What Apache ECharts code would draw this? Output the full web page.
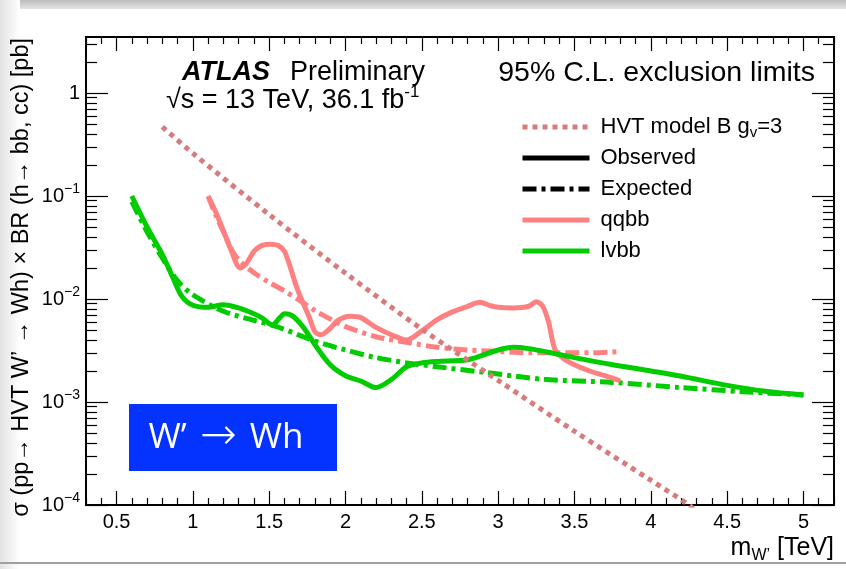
<!DOCTYPE html>
<html>
<head>
<meta charset="utf-8">
<script src="https://cdn.jsdelivr.net/npm/echarts@6/dist/echarts.min.js"></script>
<style>
  html, body { margin: 0; padding: 0; background: #fff; }
  #chart { width: 846px; height: 569px; }
</style>
</head>
<body>
<div id="chart"></div>
<script>
// W' mass points [TeV] and cross-section limits [pb]
var hvtMass = [0.8, 1.0, 1.5, 2.0, 2.5, 3.0, 3.5, 4.0, 4.25, 4.3];
var hvtXsec = [0.47, 0.26, 0.066, 0.0178, 0.0051, 0.00162, 0.00052, 0.000174, 0.0001, 0.000085];

var qqbbObsMass = [1.1, 1.15, 1.2, 1.25, 1.31, 1.35, 1.4, 1.45, 1.5, 1.56, 1.6, 1.64, 1.68, 1.72, 1.76, 1.8, 1.84, 1.9, 1.95, 2.03, 2.1, 2.2, 2.3, 2.4, 2.5, 2.6, 2.7, 2.8, 2.88, 2.95, 3.0, 3.1, 3.2, 3.25, 3.29, 3.33, 3.37, 3.42, 3.5, 3.6, 3.7, 3.8];
var qqbbObs = [0.1, 0.07, 0.046, 0.03, 0.02, 0.022, 0.029, 0.033, 0.034, 0.033, 0.029, 0.02, 0.013, 0.0093, 0.0068, 0.0048, 0.0045, 0.0052, 0.0062, 0.0068, 0.0066, 0.0053, 0.0045, 0.004, 0.0049, 0.0063, 0.0075, 0.0085, 0.0093, 0.0086, 0.0083, 0.0082, 0.0085, 0.0094, 0.0086, 0.006, 0.0033, 0.0027, 0.0023, 0.002, 0.0018, 0.0016];

var qqbbExpMass = [1.1, 1.15, 1.2, 1.26, 1.3, 1.4, 1.5, 1.6, 1.7, 1.8, 1.9, 2.0, 2.2, 2.4, 2.6, 2.8, 3.0, 3.2, 3.4, 3.6, 3.8];
var qqbbExp = [0.1, 0.065, 0.045, 0.029, 0.024, 0.018, 0.0145, 0.012, 0.0097, 0.0077, 0.0064, 0.0054, 0.0043, 0.0038, 0.0034, 0.0032, 0.0031, 0.003, 0.003, 0.003, 0.0031];

var lvbbObsMass = [0.6, 0.7, 0.8, 0.87, 0.93, 1.0, 1.1, 1.2, 1.3, 1.4, 1.45, 1.52, 1.57, 1.6, 1.65, 1.72, 1.8, 1.9, 2.0, 2.1, 2.2, 2.3, 2.4, 2.5, 2.6, 2.8, 3.0, 3.1, 3.2, 3.3, 3.5, 3.75, 4.0, 4.2, 4.5, 4.75, 5.0];
var lvbbObs = [0.1, 0.05, 0.027, 0.016, 0.0105, 0.0087, 0.0083, 0.0088, 0.0082, 0.0072, 0.0066, 0.0056, 0.0066, 0.0072, 0.0069, 0.0054, 0.0036, 0.0023, 0.0018, 0.0016, 0.00138, 0.00165, 0.0022, 0.0024, 0.00248, 0.00257, 0.0032, 0.0034, 0.0033, 0.0031, 0.0027, 0.0023, 0.002, 0.00178, 0.00145, 0.00127, 0.00117];

var lvbbExpMass = [0.6, 0.7, 0.8, 0.9, 1.0, 1.2, 1.4, 1.55, 1.8, 2.0, 2.2, 2.4, 2.6, 2.9, 3.3, 3.75, 4.2, 4.6, 5.0];
var lvbbExp = [0.088, 0.045, 0.025, 0.015, 0.011, 0.0076, 0.0062, 0.0054, 0.0039, 0.0032, 0.0027, 0.0024, 0.0022, 0.00195, 0.00166, 0.00155, 0.00138, 0.00126, 0.00117];

// axis ticks
var xMajor = [0.5, 1, 1.5, 2, 2.5, 3, 3.5, 4, 4.5, 5];
var yMajor = [0.0001, 0.001, 0.01, 0.1, 1];

var xMinor = [];
for (var i = 3; i <= 52; i++) {
  if (i % 5 !== 0) xMinor.push(i / 10);
}
var yMinor = [];
for (var e = -4; e <= 0; e++) {
  for (var k = 2; k <= 9; k++) {
    var v = k * Math.pow(10, e);
    if (v <= 3.5) yMinor.push(v);
  }
}

var FONT = 'Liberation Sans';
var dotted = [5, 5];
var dashDot = [14, 5, 4, 5];

function pairs(xs, ys) {
  return xs.map(function (x, i) { return [x, ys[i]]; });
}

function xAxisDef(pos, ticks, len, withLabels) {
  return {
    type: 'value', position: pos, min: 0.3, max: 5.2,
    axisLine: { show: false, onZero: false },
    splitLine: { show: false },
    axisTick: { show: true, inside: true, length: len, customValues: ticks, lineStyle: { color: '#000', width: 1.2 } },
    axisLabel: withLabels ? {
      show: true, customValues: xMajor, margin: 7, color: '#000',
      fontFamily: FONT, fontSize: 20
    } : { show: false }
  };
}

function yAxisDef(pos, ticks, len, withLabels) {
  return {
    type: 'log', logBase: 10, position: pos, min: 0.0001, max: 3.5,
    axisLine: { show: false, onZero: false },
    splitLine: { show: false },
    minorTick: { show: false },
    axisTick: { show: true, inside: true, length: len, customValues: ticks, lineStyle: { color: '#000', width: 1.2 } },
    axisLabel: withLabels ? {
      show: true, customValues: yMajor, margin: 6, color: '#000',
      fontFamily: FONT, fontSize: 20, lineHeight: 28,
      formatter: function (val) {
        var p = Math.round(Math.log10(val));
        if (p === 0) return '1';
        return '10{sup|' + (p < 0 ? '\u2212' + (-p) : p) + '}';
      },
      rich: { sup: { fontSize: 14, lineHeight: 14, verticalAlign: 'top', fontFamily: FONT, color: '#000' } }
    } : { show: false }
  };
}

function lineSeries(name, mass, vals, color, type, z) {
  return {
    name: name, type: 'line', data: pairs(mass, vals),
    xAxisIndex: 0, yAxisIndex: 0,
    symbol: 'none', smooth: 0.3, z: z,
    itemStyle: { color: color },
    lineStyle: { color: color, width: 5, type: type, cap: 'butt' }
  };
}

var chart = echarts.init(document.getElementById('chart'));

var option = {
  backgroundColor: '#fff',
  animation: false,
  grid: { left: 86, right: 12, top: 37, bottom: 64, show: true, borderColor: '#000', borderWidth: 2, backgroundColor: 'transparent' },
  xAxis: [
    xAxisDef('bottom', xMajor, 14, true),
    xAxisDef('bottom', xMinor, 7, false),
    xAxisDef('top', xMajor, 14, false),
    xAxisDef('top', xMinor, 7, false)
  ],
  yAxis: [
    yAxisDef('left', yMajor, 22, true),
    yAxisDef('left', yMinor, 11, false),
    yAxisDef('right', yMajor, 22, false),
    yAxisDef('right', yMinor, 11, false)
  ],
  legend: {
    orient: 'vertical', left: 520, top: 114, padding: 0,
    itemWidth: 67, itemHeight: 22, itemGap: 5,
    data: ['HVT model B gv=3', 'Observed', 'Expected', 'qqbb', 'lvbb'],
    lineStyle: { width: 5 },
    itemStyle: { opacity: 0 },
    selectedMode: false,
    formatter: function (name) {
      if (name === 'HVT model B gv=3') return 'HVT model B g{sub|v}=3';
      return name;
    },
    textStyle: {
      color: '#000', fontFamily: FONT, fontSize: 22, lineHeight: 26, padding: [0, 0, 0, 6],
      rich: { sub: { fontSize: 15, lineHeight: 15, verticalAlign: 'bottom', fontFamily: FONT, color: '#000' } }
    }
  },
  series: [
    lineSeries('qqbb expected', qqbbExpMass, qqbbExp, '#ff8080', dashDot, 2),
    lineSeries('lvbb expected', lvbbExpMass, lvbbExp, '#00cc00', dashDot, 2),
    lineSeries('qqbb', qqbbObsMass, qqbbObs, '#ff8080', 'solid', 3),
    lineSeries('lvbb', lvbbObsMass, lvbbObs, '#00cc00', 'solid', 3),
    lineSeries('HVT model B gv=3', hvtMass, hvtXsec, '#d67c7c', dotted, 4),
    lineSeries('Observed', [], [], '#000', 'solid', 1),
    lineSeries('Expected', [], [], '#000', dashDot, 1)
  ],
  graphic: [
    { type: 'rect', silent: true, z: -10, shape: { x: 0, y: 0, width: 846, height: 9 },
      style: { fill: new echarts.graphic.LinearGradient(0, 0, 0, 1, [{ offset: 0, color: '#bcbcbc' }, { offset: 1, color: '#e4e4e4' }]) } },
    { type: 'rect', silent: true, z: -10, shape: { x: 0, y: 0, width: 20, height: 569 },
      style: { fill: new echarts.graphic.LinearGradient(0, 0, 1, 0, [{ offset: 0, color: '#e2e2e2' }, { offset: 1, color: '#ffffff' }]) } },
    { type: 'rect', silent: true, shape: { x: 0, y: 562, width: 846, height: 2 }, style: { fill: '#a0a0a0' } },
    { type: 'text', x: 182, y: 73, style: { text: 'ATLAS', fontFamily: FONT, fontSize: 27, fontWeight: 'bold', fontStyle: 'italic', fill: '#000', verticalAlign: 'middle' } },
    { type: 'text', x: 290, y: 73, style: { text: 'Preliminary', fontFamily: FONT, fontSize: 27, fill: '#000', verticalAlign: 'middle' } },
    { type: 'text', x: 166, y: 101, style: {
        text: '\u221As = 13 TeV, 36.1 fb{sup|-1}', fontFamily: FONT, fontSize: 27, lineHeight: 34, fill: '#000', verticalAlign: 'middle',
        rich: { sup: { fontSize: 17, lineHeight: 17, verticalAlign: 'top', fontFamily: FONT, fill: '#000' } } } },
    { type: 'text', x: 815, y: 73, style: { text: '95% C.L. exclusion limits', fontFamily: FONT, fontSize: 28.5, fill: '#000', align: 'right', verticalAlign: 'middle' } },
    { type: 'text', x: 22, y: 38, rotation: Math.PI / 2, style: {
        text: '\u03C3 (pp\u2192 HVT W\u2019 \u2192 Wh) \u00D7 BR (h\u2192 bb, cc) [pb]', fontFamily: FONT, fontSize: 23.5,
        fill: '#000', align: 'right', verticalAlign: 'middle' } },
    { type: 'text', x: 834, y: 548, style: {
        text: 'm{sub|W\u2019} [TeV]', fontFamily: FONT, fontSize: 25, lineHeight: 32, fill: '#000', align: 'right', verticalAlign: 'middle',
        rich: { sub: { fontSize: 16, lineHeight: 16, verticalAlign: 'bottom', fontFamily: FONT, fill: '#000' } } } },
    { type: 'rect', z: 10, shape: { x: 129, y: 404, width: 208, height: 67 }, style: { fill: '#0433ff' } },
    { type: 'text', z: 11, x: 226, y: 438, style: {
        text: 'W\u2019 {a|\u2192} Wh', fontFamily: 'Open Sans', fontSize: 35, lineHeight: 46, fill: '#fff', align: 'center', verticalAlign: 'middle',
        rich: { a: { fontFamily: 'DejaVu Sans', fontSize: 44, lineHeight: 46, fontWeight: 'lighter', padding: [0, 4, 0, 4], fill: '#fff' } } } }
  ]
};

chart.setOption(option);
</script>
</body>
</html>
